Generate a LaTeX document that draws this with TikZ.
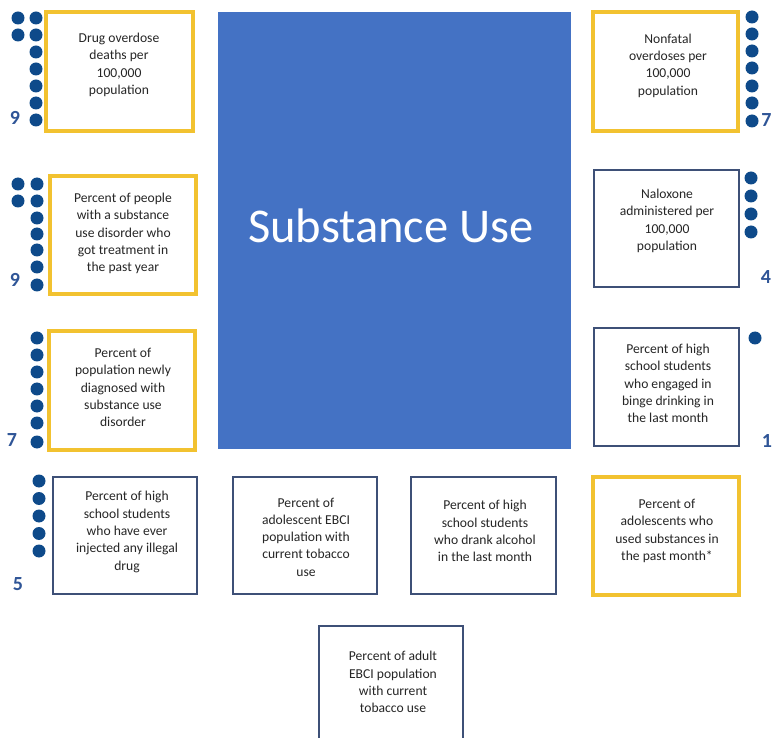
\documentclass[tikz,border=0pt]{standalone}
\usepackage{fontspec}
\setmainfont{Carlito}
\usepackage{tikz}
\usetikzlibrary{
  	positioning,
  	calc
  }
\definecolor{mainblue}{HTML}{4472C4}
\definecolor{dotblue}{HTML}{0E4A8A}
\definecolor{countblue}{HTML}{2F5597}
\definecolor{goldline}{HTML}{F2C230}
\definecolor{slateline}{HTML}{3E5077}
\tikzstyle{goldbox}=[rectangle,draw=goldline,line width=4pt,inner sep=0pt]
\tikzstyle{slatebox}=[rectangle,draw=slateline,line width=1.6pt,inner sep=0pt]
\tikzstyle{boxtext}=[align=center,inner sep=0pt,text=black!85,font=\fontsize{13.6}{17.3}\selectfont]
\tikzstyle{dotc}=[circle,fill=dotblue,inner sep=0pt,minimum size=13pt]
\tikzstyle{count}=[inner sep=0pt,text=countblue,font=\bfseries\fontsize{20}{20}\selectfont]

\begin{document}
\begin{tikzpicture}[x=1pt,y=-1pt]
  	\clip (0,0) rectangle (772,738);
  	\fill[white] (0,0) rectangle (772,738);
  	% centre block
  	\node[rectangle,fill=mainblue,minimum width=353pt,minimum height=437pt] (main) at (394.5,230.5) {};
  	\node[text=white,font=\fontsize{48.5}{50}\selectfont,inner sep=0pt] (title) at (391,226) {Substance Use};
  	% left column
  	\node[goldbox,minimum width=147pt,minimum height=119pt] (deaths) at (119.5,71.5) {};
  	\node[boxtext] (deathsT) at (119,65) {Drug overdose\\deaths per\\100,000\\population};
  	\node[goldbox,minimum width=146pt,minimum height=118pt] (treat) at (123,235) {};
  	\node[boxtext] (treatT) at (123,233.5) {Percent of people\\with a substance\\use disorder who\\got treatment in\\the past year};
  	\node[goldbox,minimum width=146pt,minimum height=119pt] (diag) at (122,390.5) {};
  	\node[boxtext] (diagT) at (123,387.5) {Percent of\\population newly\\diagnosed with\\substance use\\disorder};
  	% right column
  	\node[goldbox,minimum width=145pt,minimum height=119pt] (nonfatal) at (665.5,71.5) {};
  	\node[boxtext] (nonfatalT) at (668,65.5) {Nonfatal\\overdoses per\\100,000\\population};
  	\node[slatebox,minimum width=145pt,minimum height=117pt] (narcan) at (666.5,228.5) {};
  	\node[boxtext] (narcanT) at (667,221) {Naloxone\\administered per\\100,000\\population};
  	\node[slatebox,minimum width=145pt,minimum height=118pt] (binge) at (666.5,387) {};
  	\node[boxtext] (bingeT) at (668,383.5) {Percent of high\\school students\\who engaged in\\binge drinking in\\the last month};
  	% bottom row
  	\node[slatebox,minimum width=144pt,minimum height=117pt] (inject) at (125,535.5) {};
  	\node[boxtext] (injectT) at (127,532) {Percent of high\\school students\\who have ever\\injected any illegal\\drug};
  	\node[slatebox,minimum width=144pt,minimum height=117pt] (teenTob) at (305,535.5) {};
  	\node[boxtext] (teenTobT) at (306,537) {Percent of\\adolescent EBCI\\population with\\current tobacco\\use};
  	\node[slatebox,minimum width=145pt,minimum height=117pt] (alcohol) at (483.5,535.5) {};
  	\node[boxtext] (alcoholT) at (485,531) {Percent of high\\school students\\who drank alcohol\\in the last month};
  	\node[goldbox,minimum width=146pt,minimum height=118pt] (teenUse) at (666,536) {};
  	\node[boxtext] (teenUseT) at (667,531) {Percent of\\adolescents who\\used substances in\\the past month*};
  	\node[slatebox,minimum width=144pt,minimum height=118pt] (adultTob) at (391,685) {};
  	\node[boxtext] (adultTobT) at (393,682) {Percent of adult\\EBCI population\\with current\\tobacco use};
  	% dot counts
  	\foreach \i/\y in {1/18,2/35,3/52,4/69,5/86,6/103,7/120}
  		\node[dotc] (dA\i) at (36,\y) {};
  	\node[dotc] (dA8) at (18,18) {};
  	\node[dotc] (dA9) at (18,35) {};
  	\node[count] (nA) at (15,118) {9};
  	\foreach \i/\y in {1/184,2/201,3/218,4/234,5/250,6/267,7/285}
  		\node[dotc] (dB\i) at (37,\y) {};
  	\node[dotc] (dB8) at (18,184) {};
  	\node[dotc] (dB9) at (18,201) {};
  	\node[count] (nB) at (15,280) {9};
  	\foreach \i/\y in {1/338,2/355,3/372,4/389,5/406,6/423,7/442}
  		\node[dotc] (dC\i) at (37,\y) {};
  	\node[count] (nC) at (12,440) {7};
  	\foreach \i/\y in {1/481,2/498.5,3/516,4/533.5,5/551}
  		\node[dotc] (dD\i) at (39,\y) {};
  	\node[count] (nD) at (18,584) {5};
  	\foreach \i/\y in {1/17,2/34,3/51,4/68,5/86,6/103,7/121}
  		\node[dotc] (dE\i) at (752,\y) {};
  	\node[count] (nE) at (766.5,120) {7};
  	\foreach \i/\y in {1/178,2/196,3/214,4/232}
  		\node[dotc] (dF\i) at (751,\y) {};
  	\node[count] (nF) at (766,277) {4};
  	\node[dotc] (dG1) at (755,338) {};
  	\node[count] (nG) at (767,441) {1};
\end{tikzpicture}
\end{document}
